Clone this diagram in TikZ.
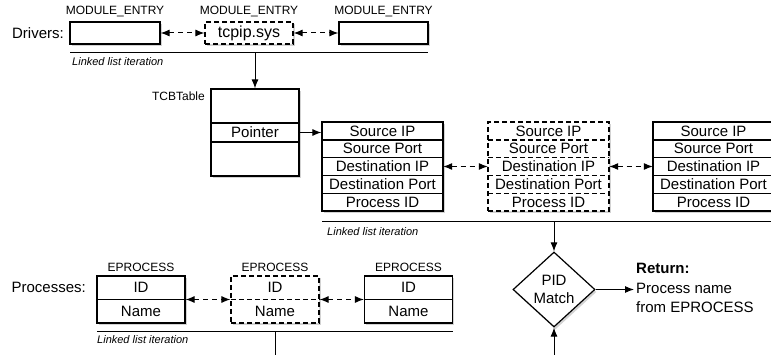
\documentclass[tikz,border=0pt]{standalone}
\usepackage{fontspec}
\setmainfont{Liberation Sans}
\usetikzlibrary{arrows.meta,shapes.geometric,shadows}
\begin{document}
\begin{tikzpicture}[x=1pt,y=-1pt,
  every node/.style={font=\fontsize{15}{18}\selectfont},
  lbl/.style={font=\fontsize{12}{14}\selectfont, inner sep=0},
  iter/.style={font=\fontsize{11}{13}\selectfont\itshape, inner sep=0, anchor=west},
  shad/.style={drop shadow={shadow xshift=1.5pt,shadow yshift=-2.5pt,opacity=0.35}},
  frame/.style={draw, line width=1.2pt, fill=white, shad, inner sep=0},
  row/.style={inner sep=0, minimum height=17.8pt, minimum width=121pt},
  prow/.style={inner sep=0, minimum height=23.5pt, minimum width=88pt},
  dashline/.style={dash pattern=on 5pt off 3pt},
  link/.style={line width=1pt, dash pattern=on 5pt off 4pt, {Latex[length=9pt,width=7pt]}-{Latex[length=9pt,width=7pt]}},
  arr/.style={line width=1pt, -{Latex[length=9pt,width=7pt]}},
  rule/.style={line width=1pt}
]
\useasboundingbox (0,0) rectangle (771,355);

% ---------- Drivers ----------
\node[anchor=east, inner sep=0] (drv) at (64,33) {Drivers:};
\node[frame, minimum width=90pt, minimum height=22pt] (d1) at (115,33) {};
\node[frame, dashline, minimum width=88pt, minimum height=22pt, font=\fontsize{16}{18}\selectfont] (d2) at (249,33) {tcpip.sys};
\node[frame, minimum width=89pt, minimum height=22pt] (d3) at (383.5,33) {};
\node[lbl] (me1) at (115,12) {MODULE\_ENTRY};
\node[lbl] (me2) at (249,12) {MODULE\_ENTRY};
\node[lbl] (me3) at (383.5,12) {MODULE\_ENTRY};
\draw[link] (d1.east) -- (d2.west);
\draw[link] (d2.east) -- (d3.west);
\coordinate (r1a) at (70,53);
\coordinate (r1b) at (428,53);
\draw[rule] (r1a) -- (r1b);
\node[iter] (it1) at (72,62) {Linked list iteration};

% ---------- TCB table ----------
\node[frame, minimum width=88pt, minimum height=87pt] (tcb) at (255,132.5) {};
\node[draw, line width=1.2pt, inner sep=0, minimum width=88pt, minimum height=19pt] (ptr) at (255,132.5) {Pointer};
\node[lbl, anchor=east] (tcbl) at (205,96) {TCBTable};
\coordinate (dv) at (255,53);
\draw[arr] (dv) -- (tcb.north);

% ---------- Connection tables ----------
\foreach \tn/\cx/\st in {t1/382.5/solid, t2/548.5/dashline, t3/713.5/solid} {
  \node[frame, \st, minimum width=121pt, minimum height=89pt] (\tn) at (\cx,166.5) {};
  \node[row] (\tn1) at (\cx,130.9) {Source IP};
  \node[row] (\tn2) at (\cx,148.7) {Source Port};
  \node[row] (\tn3) at (\cx,166.5) {Destination IP};
  \node[row] (\tn4) at (\cx,184.3) {Destination Port};
  \node[row] (\tn5) at (\cx,202.1) {Process ID};
  \foreach \r in {1,2,3,4} \draw[line width=1.2pt,\st] (\tn\r.south west) -- (\tn\r.south east);
}
\draw[arr] (ptr.east) -- (ptr.east -| t1.west);
\draw[link] (t13.east) -- (t23.west);
\draw[link] (t23.east) -- (t33.west);
\coordinate (r2a) at (322,222);
\coordinate (r2b) at (771,222);
\draw[rule] (r2a) -- (r2b);
\node[iter] (it2) at (327,232) {Linked list iteration};

% ---------- PID match ----------
\node[diamond, draw, line width=1.2pt, fill=white, shad, minimum width=82pt, minimum height=75pt, inner sep=0, align=center] (pid) at (554,289.5) {PID\\Match};
\coordinate (pv) at (554,222);
\draw[arr] (pv) -- (pid.north);
\node[anchor=west, align=left, inner sep=2pt, font=\fontsize{15}{19.5}\selectfont] (ret) at (634,288) {\textbf{Return:}\\Process name\\from EPROCESS};
\draw[arr] (pid.east) -- (pid.east -| ret.west);
\coordinate (bot) at (554,355);
\draw[arr] (bot) -- (pid.south);

% ---------- Processes ----------
\node[anchor=east, inner sep=0] (prl) at (86,287.5) {Processes:};
\foreach \pn/\cx/\st in {p1/141/solid, p2/275/dashline, p3/408.5/solid} {
  \node[frame, \st, minimum width=88pt, minimum height=47pt] (\pn) at (\cx,299.5) {};
  \node[prow] (\pn1) at (\cx,287.75) {ID};
  \node[prow] (\pn2) at (\cx,311.25) {Name};
  \draw[line width=1.2pt,\st] (\pn1.south west) -- (\pn1.south east);
  \node[lbl] (\pn l) at (\cx,267) {EPROCESS};
}
\draw[link] (p1.east) -- (p2.west);
\draw[link] (p2.east) -- (p3.west);
\coordinate (r3a) at (97,331);
\coordinate (r3b) at (453,331);
\draw[rule] (r3a) -- (r3b);
\node[iter] (it3) at (97,340) {Linked list iteration};
\coordinate (pd1) at (275,331);
\coordinate (pd2) at (275,355);
\draw[rule] (pd1) -- (pd2);
\end{tikzpicture}
\end{document}
